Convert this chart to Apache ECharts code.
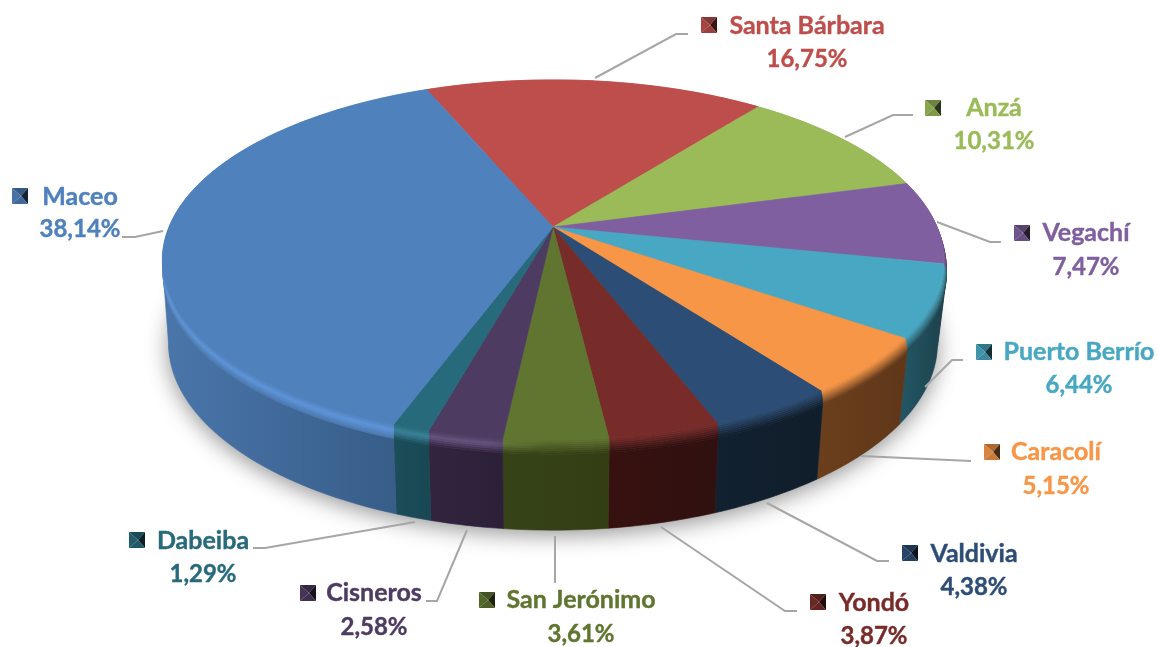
<!DOCTYPE html>
<html>
<head>
<meta charset="utf-8">
<title>Pie</title>
<style>html,body{margin:0;padding:0;background:#fff}#chart{width:1157px;height:647px}</style>
<script src="https://cdn.jsdelivr.net/npm/echarts@6/dist/echarts.min.js"></script>
</head>
<body>
<div id="chart"></div>
<script>
var names = ['Santa Bárbara','Anzá','Vegachí','Puerto Berrío','Caracolí','Valdivia','Yondó','San Jerónimo','Cisneros','Dabeiba','Maceo'];
var values = [16.75,10.31,7.47,6.44,5.15,4.38,3.87,3.61,2.58,1.29,38.14];
var valueLabels = ['16,75%','10,31%','7,47%','6,44%','5,15%','4,38%','3,87%','3,61%','2,58%','1,29%','38,14%'];

var topColors = ['#BE4E4B','#9BBB59','#7F5F9F','#48A8C3','#F79646','#2C4D75','#772C2A','#5F7530','#4D3B62','#276A7C','#4F81BD'];
var wallLeft = ['#5c2422','#4d5d2c','#3f2f4f','#235766','#6b3f1c','#12212f','#371110','#364217','#33243f','#1b4d5a','#4a76ab'];
var wallRight = ['#5c2422','#4d5d2c','#3f2f4f','#1d414b','#5f3719','#101e2c','#301010','#333e14','#2c2038','#184854','#375d88'];
var rimGlow = ['#BE4E4B','#9BBB59','#7F5F9F','#48A8C3','#F79646','#2C4D75','#772C2A','#667c38','#66527e','#38829a','#5c95dc'];

// label layout: swatch x/y, name centre, value centre, leader line
var labelBoxes = [
    {sw:[701,17], name:[807,26], val:[807,59], line:[[595,78],[676,34],[688,34]]},
    {sw:[925,100], name:[994,108], val:[994,141], line:[[845,137],[893,115],[913,115]]},
    {sw:[1014,225], name:[1086,233], val:[1086,267], line:[[937,222],[990,242],[1001,242]]},
    {sw:[976,344], name:[1079,352], val:[1079,385], line:[[925,387],[952,360],[963,360]]},
    {sw:[984,444], name:[1056,452], val:[1056,486], line:[[861,456],[971,461]]},
    {sw:[902,545], name:[974,554], val:[974,587], line:[[767,503],[877,561],[889,561]]},
    {sw:[810,594], name:[874,603], val:[874,636], line:[[661,527],[785,611],[797,611]]},
    {sw:[479,592], name:[581,600], val:[581,634], line:[[555,536],[555,583]]},
    {sw:[300,585], name:[374,593], val:[374,627], line:[[467,530],[437,601],[426,601]]},
    {sw:[129,532], name:[203,541], val:[203,574], line:[[415,522],[265,548],[253,548]]},
    {sw:[12,188], name:[80,197], val:[80,229], line:[[163,231],[135,237],[122,237]]}
];

var startDeg = -22.6;
var cx = 553, apexY = 227, persp = 0.183;
var wallH = 82, bevelH = 13;
var sideA = 100.5, sideB = 259.5; // where the rim turns away from the viewer

var total = values.reduce(function(a,b){return a+b;},0);
var starts = [];
var acc = startDeg;
values.forEach(function(v){ starts.push(acc); acc += v/total*360; });

function pt(deg,h,grow){
    var a = deg*Math.PI/180, u = Math.sin(a), v = Math.cos(a), w = 1/(1+persp*v);
    var rx = 384 - 6*h/wallH + (grow||0)*(1+u*0.9), ry = 174 + 6.7*h/wallH;
    return [cx + rx*u*w, apexY + h - ry*v*w];
}
function arc(a0,a1,h,grow){
    var n = Math.max(2,Math.ceil(Math.abs(a1-a0))), out = [];
    for(var i=0;i<=n;i++){ out.push(pt(a0+(a1-a0)*i/n,h,grow)); }
    return out;
}
function hex(c){ return [parseInt(c.substr(1,2),16),parseInt(c.substr(3,2),16),parseInt(c.substr(5,2),16)]; }
function mix(a,b,t){
    var x = hex(a), y = hex(b), o = [0,1,2].map(function(i){ return Math.round(x[i]+(y[i]-x[i])*t); });
    return 'rgb('+o.join(',')+')';
}
function growAt(t){ return 2*Math.sin(Math.min(t,1)*Math.PI/2); }

function slice(i){
    var d = values[i]/total*360;
    return [starts[i],starts[i]+d];
}

function renderWall(params,api){
    var i = params.dataIndex, s = slice(i), kids = [];
    if(i===0){
        kids.push({type:'polygon',shape:{points:arc(0,360,wallH-2,0)},
            style:{fill:'#888',shadowBlur:22,shadowColor:'rgba(0,0,0,0.42)',shadowOffsetY:7}});
    }
    var a0 = Math.max(s[0],sideA), a1 = Math.min(s[1],sideB);
    if(a1>a0){
        var pts = arc(a0,a1,bevelH,growAt(1)).concat(arc(a1,a0,wallH,0));
        var grad = {type:'linear',x:0,y:0,x2:1,y2:0,colorStops:[{offset:0,color:wallLeft[i]},{offset:1,color:wallRight[i]}]};
        kids.push({type:'polygon',shape:{points:pts},style:{fill:grad,stroke:grad,lineWidth:0.6}});
    }
    return {type:'group',children:kids};
}

function renderTop(params,api){
    var i = params.dataIndex, s = slice(i), kids = [], steps = 7;
    // bevel strips first, the flat face goes over them
    for(var k=steps-1;k>=0;k--){
        var t0 = k/steps, t1 = (k+1)/steps, tm = (t0+t1)/2;
        var pts = arc(s[0],s[1],t0*bevelH,growAt(t0)).concat(arc(s[1],s[0],t1*bevelH,growAt(t1)));
        var lit = tm<0.4 ? mix(topColors[i],rimGlow[i],tm/0.4) : mix(rimGlow[i],wallLeft[i],(tm-0.4)/0.6);
        var plain = mix(topColors[i],wallRight[i],tm);
        var grad = {type:'linear',x:160,y:0,x2:945,y2:0,global:true,colorStops:[
            {offset:0,color:lit},{offset:0.42,color:lit},{offset:0.5,color:plain},{offset:1,color:plain}]};
        kids.push({type:'polygon',shape:{points:pts},style:{fill:grad,stroke:grad,lineWidth:0.6}});
    }
    var face = [[cx,apexY]].concat(arc(s[0],s[1],0,0));
    kids.push({type:'polygon',shape:{points:face},style:{fill:topColors[i],stroke:topColors[i],lineWidth:0.6}});
    return {type:'group',children:kids};
}

function renderLabel(params,api){
    var i = params.dataIndex, b = labelBoxes[i], c = topColors[i], kids = [];
    kids.push({type:'polyline',shape:{points:b.line},style:{fill:'none',stroke:'#A6A6A6',lineWidth:2}});
    var x = b.sw[0], y = b.sw[1], w = 16, m = [x+w/2+1,y+w/2];
    var tl=[x,y], tr=[x+w,y], br=[x+w,y+w], bl=[x,y+w];
    kids.push({type:'polygon',shape:{points:[tl,tr,m]},style:{fill:mix(c,'#000000',0.3)}});
    kids.push({type:'polygon',shape:{points:[tl,bl,m]},style:{fill:mix(c,'#000000',0.12)}});
    kids.push({type:'polygon',shape:{points:[tr,br,m]},style:{fill:mix(c,'#000000',0.72)}});
    kids.push({type:'polygon',shape:{points:[bl,br,m]},style:{fill:mix(c,'#000000',0.18)}});
    kids.push({type:'text',style:{text:names[i],x:b.name[0],y:b.name[1],fill:c,stroke:c,lineWidth:0.4,fontSize:25,fontWeight:'bold',fontFamily:'Lato',align:'center',verticalAlign:'middle'}});
    kids.push({type:'text',style:{text:valueLabels[i],x:b.val[0],y:b.val[1],fill:c,stroke:c,lineWidth:0.4,fontSize:24,fontWeight:'bold',fontFamily:'Lato',align:'center',verticalAlign:'middle'}});
    return {type:'group',children:kids};
}

var chart = echarts.init(document.getElementById('chart'));
var rows = values.map(function(v,i){ return {name:names[i],value:v}; });
chart.setOption({
    animation:false,
    backgroundColor:'#fff',
    series:[
        {type:'custom',coordinateSystem:'none',renderItem:renderWall,data:rows,silent:true,z:1},
        {type:'custom',coordinateSystem:'none',renderItem:renderTop,data:rows,silent:true,z:2},
        {type:'custom',coordinateSystem:'none',renderItem:renderLabel,data:rows,silent:true,z:3}
    ]
});
</script>
</body>
</html>
